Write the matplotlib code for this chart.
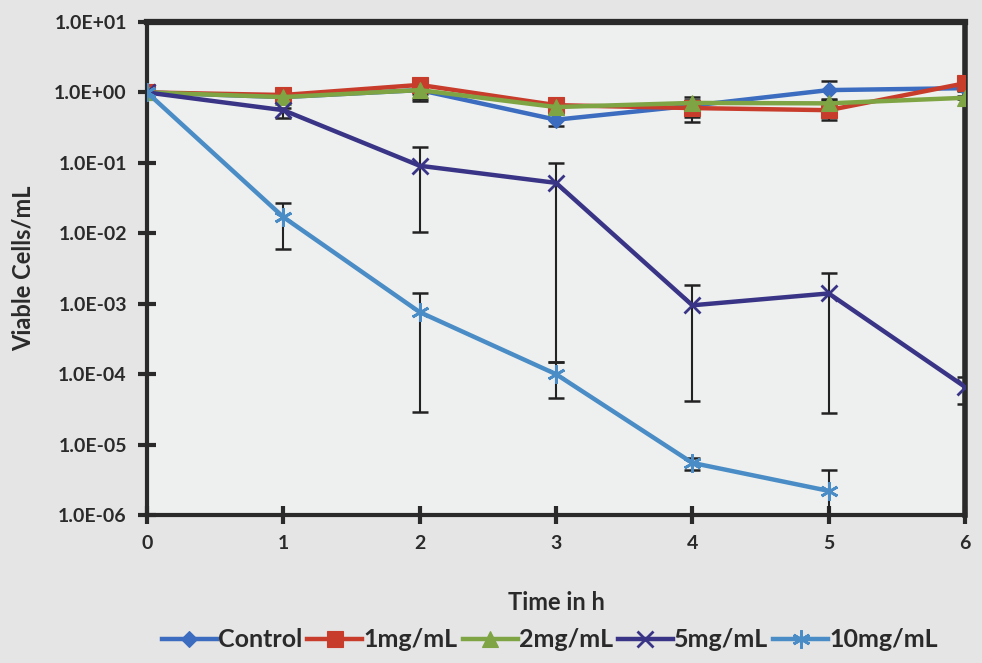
import numpy as np
import matplotlib
matplotlib.use("Agg")
import matplotlib.pyplot as plt
from matplotlib.ticker import FixedLocator, FuncFormatter

hours = [0, 1, 2, 3, 4, 5, 6]
series_names = ["Control", "1mg/mL", "2mg/mL", "5mg/mL", "10mg/mL"]

control = [1.0, 0.86, 1.08, 0.41, 0.65, 1.08, 1.15]
control_lo = [1.0, 0.80, 0.75, 0.33, 0.45, 0.80, 1.05]
control_hi = [1.0, 0.92, 1.35, 0.50, 0.85, 1.45, 1.25]

mg1 = [1.0, 0.92, 1.28, 0.66, 0.60, 0.56, 1.35]
mg1_lo = [1.0, 0.88, 0.80, 0.55, 0.38, 0.41, 1.30]
mg1_hi = [1.0, 0.96, 1.55, 0.78, 0.75, 0.70, 1.40]

mg2 = [1.0, 0.86, 1.08, 0.62, 0.71, 0.70, 0.84]
mg2_lo = [1.0, 0.82, 0.95, 0.55, 0.65, 0.62, 0.80]
mg2_hi = [1.0, 0.90, 1.20, 0.70, 0.78, 0.78, 0.88]

mg5 = [1.0, 0.56, 0.091, 0.052, 9.5e-4, 1.4e-3, 6.6e-5]
mg5_lo = [1.0, 0.43, 0.0104, 1.5e-4, 4.2e-5, 2.8e-5, 3.8e-5]
mg5_hi = [1.0, 0.60, 0.17, 0.10, 1.85e-3, 2.7e-3, 9.0e-5]

mg10 = [1.0, 0.017, 7.6e-4, 1.0e-4, 5.5e-6, 2.2e-6, np.nan]
mg10_lo = [1.0, 0.006, 2.9e-5, 4.6e-5, 4.4e-6, 1.0e-6, np.nan]
mg10_hi = [1.0, 0.027, 1.4e-3, 1.5e-4, 6.4e-6, 4.4e-6, np.nan]

y_ticks = [1e-6, 1e-5, 1e-4, 1e-3, 1e-2, 1e-1, 1e0, 1e1]

colors = ["#3b6cc0", "#c83c2c", "#7ea444", "#3a3487", "#4a8cc6"]
markers = ["D", "s", "^", "x", (6, 2, 0)]
msizes = [8, 11, 11, 12, 13]

data = [(control, control_lo, control_hi), (mg1, mg1_lo, mg1_hi),
        (mg2, mg2_lo, mg2_hi), (mg5, mg5_lo, mg5_hi), (mg10, mg10_lo, mg10_hi)]

fig = plt.figure(figsize=(9.82, 6.63), dpi=100, facecolor="#e5e5e5")
ax = fig.add_axes([0.1497, 0.2232, 0.8330, 0.7436])
ax.set_facecolor("#edf0ee")

font = ["Lato", "DejaVu Sans"]

for name, (v, lo, hi), c, m, ms in zip(series_names, data, colors, markers, msizes):
    v = np.array(v, dtype=float)
    lo = np.array(lo, dtype=float)
    hi = np.array(hi, dtype=float)
    yerr = np.vstack([v - lo, hi - v])
    ax.errorbar(hours, v, yerr=yerr, fmt="none", ecolor="#222222",
                elinewidth=1.5, capsize=6, capthick=1.8, zorder=2)
    thin = (m == "x" or isinstance(m, tuple))
    ax.plot(hours, v, color=c, lw=3.2, marker=m, markersize=ms,
            markeredgewidth=2.0 if thin else 0.8,
            markeredgecolor=c, markerfacecolor=c, label=name, zorder=3)

ax.set_yscale("log")
ax.set_ylim(1e-6, 1e1)
ax.set_xlim(0, 6)
ax.yaxis.set_major_locator(FixedLocator(y_ticks))
ax.yaxis.set_minor_locator(FixedLocator([]))
ax.yaxis.set_major_formatter(FuncFormatter(lambda v, p: "{:.1E}".format(v)))
ax.set_xticks(hours)
ax.set_xticklabels([str(h) for h in hours])

for s in ax.spines.values():
    s.set_linewidth(3)
    s.set_color("#2a2a2a")
ax.spines["top"].set_linewidth(4.5)
ax.spines["right"].set_linewidth(4)
ax.tick_params(axis="both", direction="inout", length=13, width=3, color="#2a2a2a",
               labelsize=14, pad=8)
for lbl in ax.get_xticklabels() + ax.get_yticklabels():
    lbl.set_fontweight("bold")
    lbl.set_family(font)
    lbl.set_color("#2a2a2a")

ax.set_xlabel("Time in h", fontsize=17, fontweight="bold", family=font, color="#2a2a2a", labelpad=28)
ax.set_ylabel("Viable Cells/mL", fontsize=17, fontweight="bold", family=font, color="#2a2a2a", labelpad=14)

leg = fig.legend(loc="center", bbox_to_anchor=(0.56, 0.035), ncol=5, frameon=False,
                 prop={"family": font, "size": 18, "weight": "bold"}, handlelength=2.2,
                 columnspacing=0.2, handletextpad=0.05)
for t in leg.get_texts():
    t.set_color("#2a2a2a")

fig.savefig("out.png", dpi=100, facecolor=fig.get_facecolor())
